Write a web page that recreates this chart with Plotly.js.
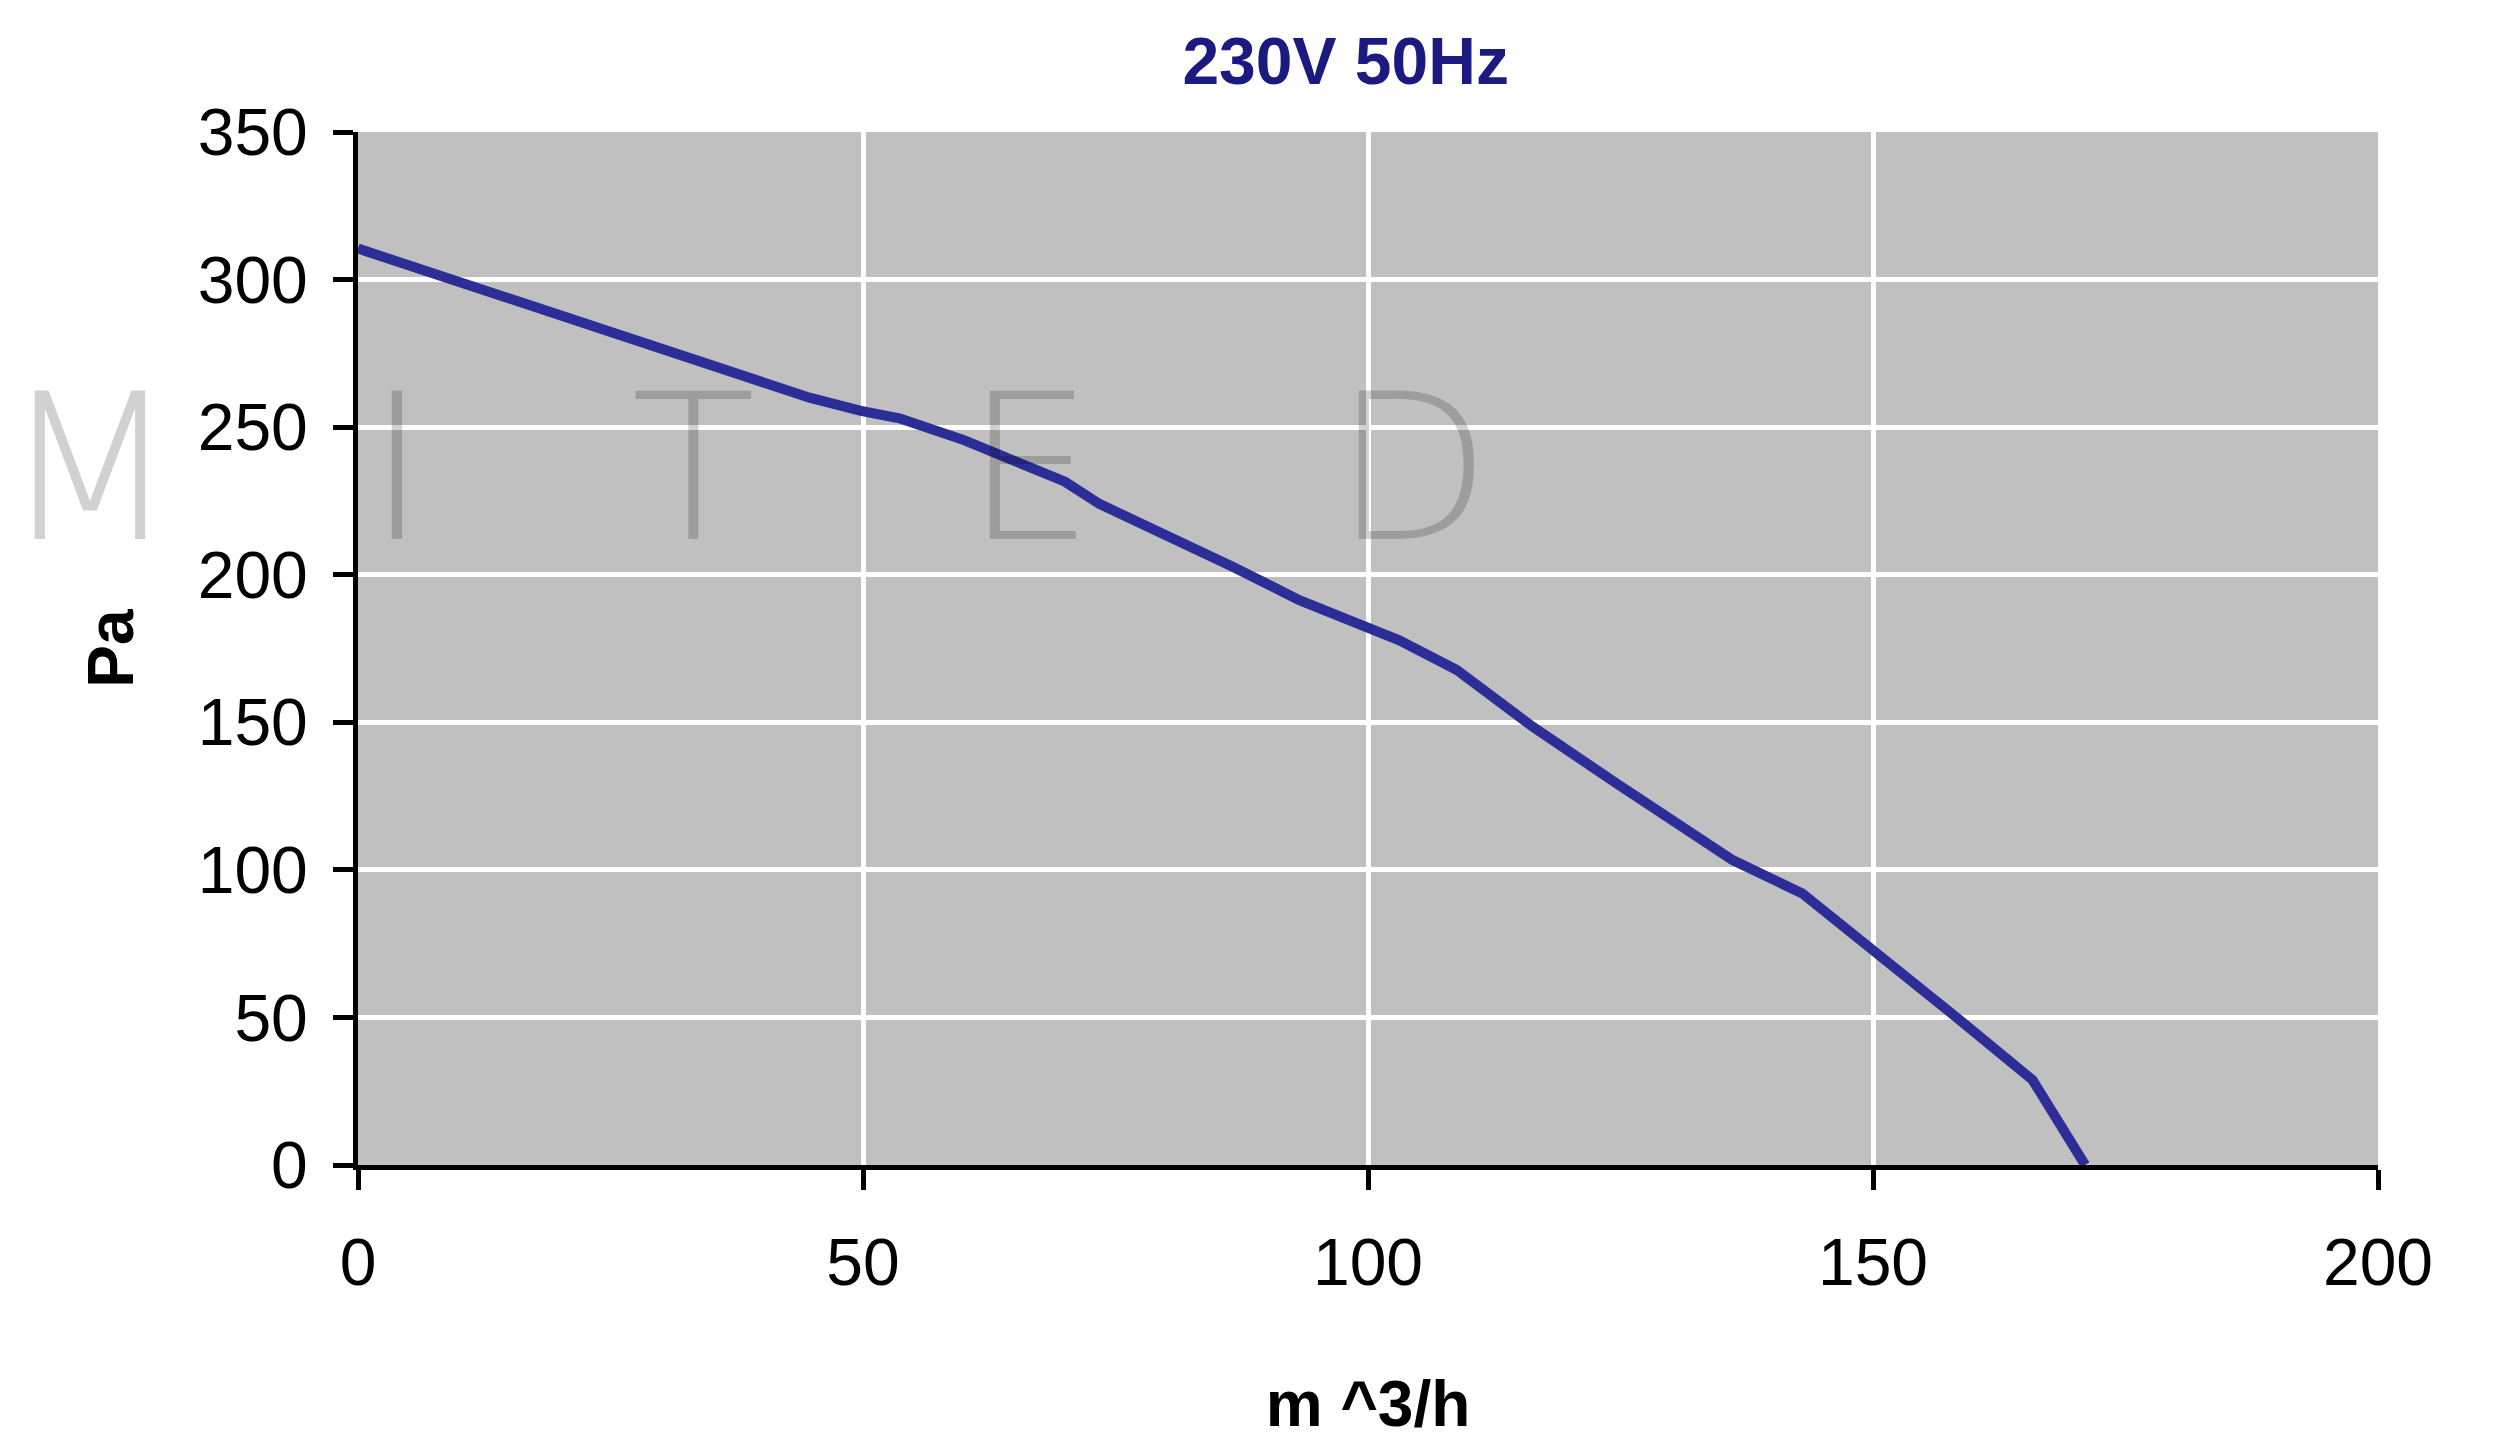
<!DOCTYPE html>
<html>
<head>
<meta charset="utf-8">
<script src="https://cdn.plot.ly/plotly-3.0.1.min.js"></script>
<style>html,body{margin:0;padding:0;background:#fff;}</style>
</head>
<body>
<div id="chart" style="width:2512px;height:1440px;"></div>
<script>
// Airflow (m^3/h) and static pressure (Pa)
const flow = [0, 14.4, 29.6, 44.7, 49.8, 53.6, 60, 70, 73.4, 78.5, 86.6, 93.2, 103.1, 108.8, 116.3, 124.6, 136.1, 143, 150.1, 158.2, 165.8, 171];
const pressure = [310.5, 294.5, 277.5, 260, 255.5, 253, 245.6, 231.5, 224, 216, 202.7, 191.4, 177.8, 167.7, 148.5, 129.3, 103.3, 92, 72.8, 50.2, 28.8, 0];
const xTicks = [0, 50, 100, 150, 200];
const yTicks = [0, 50, 100, 150, 200, 250, 300, 350];
const chartTitle = '230V 50Hz';
const xTitle = 'm ^3/h';
const yTitle = 'Pa';
const watermark = ['M', 'I', 'T', 'E', 'D'];
const watermarkX = [-0.1772, 0.0192, 0.1663, 0.3325, 0.522];

const trace = {
  x: flow, y: pressure, type: 'scatter', mode: 'lines',
  line: {color: '#2d2d98', width: 10}, showlegend: false, hoverinfo: 'x+y'
};

const annotations = watermark.map((t, i) => ({
  text: t, xref: 'paper', yref: 'paper', x: watermarkX[i], y: 0.674,
  xanchor: i === 0 ? 'left' : 'center', yanchor: 'middle', showarrow: false,
  font: {family: 'DejaVu Sans ExtraLight, DejaVu Sans, sans-serif', size: 204, weight: 200, color: 'rgba(0,0,0,0.18)'}
}));

const layout = {
  width: 2512, height: 1440,
  paper_bgcolor: '#ffffff', plot_bgcolor: '#c0c0c0',
  margin: {l: 358, r: 134, t: 132, b: 275, pad: 0},
  font: {family: 'Liberation Sans, Arial, sans-serif', color: '#000000'},
  title: {
    text: chartTitle, xref: 'container', yref: 'container', x: 0.5357, y: 0.9576,
    xanchor: 'center', yanchor: 'middle',
    font: {size: 66, color: '#1a1a80', weight: 'bold', family: 'Liberation Sans, Arial, sans-serif'}
  },
  xaxis: {
    range: [0, 200], tickvals: xTicks, ticktext: xTicks.map(String),
    showgrid: true, gridcolor: '#ffffff', gridwidth: 5, zeroline: false,
    showline: true, linecolor: '#000000', linewidth: 5, mirror: false,
    ticks: 'outside', ticklen: 20, tickwidth: 5, tickcolor: '#000000',
    tickfont: {size: 66, color: '#000000'}, ticklabelstandoff: 16,
    title: {text: xTitle, font: {size: 64, weight: 'bold', color: '#000000'}, standoff: 117},
    automargin: false, fixedrange: true
  },
  yaxis: {
    range: [0, 350], tickvals: yTicks, ticktext: yTicks.map(String),
    showgrid: true, gridcolor: '#ffffff', gridwidth: 5, zeroline: false,
    showline: true, linecolor: '#000000', linewidth: 5, mirror: false,
    ticks: 'outside', ticklen: 20, tickwidth: 5, tickcolor: '#000000',
    tickfont: {size: 66, color: '#000000'}, ticklabelstandoff: 12,
    title: {text: yTitle, font: {size: 64, weight: 'bold', color: '#000000'}, standoff: 45},
    automargin: false, fixedrange: true
  },
  annotations: annotations
};

Plotly.newPlot('chart', [trace], layout, {displayModeBar: false, staticPlot: true});
</script>
</body>
</html>
